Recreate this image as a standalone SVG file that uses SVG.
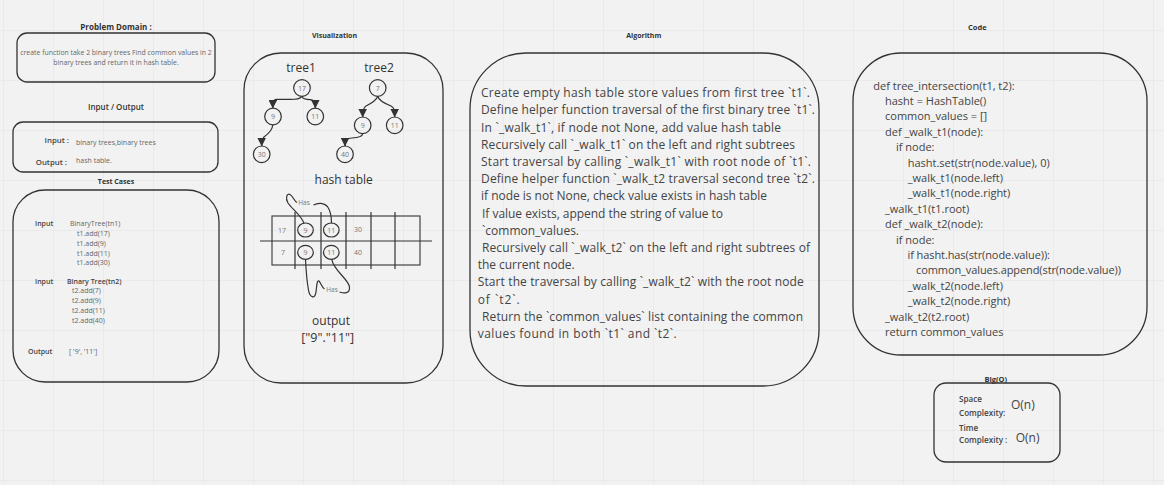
<svg xmlns="http://www.w3.org/2000/svg" width="1164" height="485" viewBox="0 0 1164 485">
<defs>
<pattern id="grid" x="3" y="30" width="50" height="50" patternUnits="userSpaceOnUse">
<path d="M0,0 H50 M0,0 V50" fill="none" stroke="#e2e2e2" stroke-width="1"/>
</pattern>
<marker id="arr" viewBox="0 0 8 8" refX="7.5" refY="4" markerWidth="8.5" markerHeight="8.5" markerUnits="userSpaceOnUse" orient="auto">
<path d="M0,0 L8,4 L0,8 Z" fill="#333"/>
</marker>
<style>
text{font-family:"Open Sans","Liberation Sans",sans-serif;}
.title{font-size:7px;font-weight:700;fill:#333;text-anchor:middle;}
.box{fill:none;stroke:#333;stroke-width:1.3;}
.sm{font-size:7px;fill:#666;}
.smb{font-size:7px;font-weight:600;fill:#444;}
.alg{font-size:12px;fill:#444;}
.code{font-size:11px;fill:#444;}
.big{font-size:12px;fill:#444;}
.nd{fill:none;stroke:#333;stroke-width:1.2;}
.nt{font-size:7px;fill:#777;text-anchor:middle;}
.edge{fill:none;stroke:#333;stroke-width:1.2;}
.ln{stroke:#333;stroke-width:1.2;fill:none;}
</style>
</defs>
<rect width="1164" height="485" fill="#f2f2f2"/>
<rect width="1164" height="485" fill="url(#grid)"/>

<g id="problem-domain">
<text class="title" x="116" y="30" style="font-size:8px">Problem Domain :</text>
<rect class="box" x="17" y="33" width="198" height="49" rx="10"/>
<text class="sm" x="116" y="54.5" text-anchor="middle" style="font-size:6.9px">create function take 2 binary trees Find common values in 2</text>
<text class="sm" x="116" y="65" text-anchor="middle" style="font-size:6.9px">binary trees and return it in hash table.</text>
</g>

<g id="input-output">
<text class="title" x="116" y="110" style="font-size:8px;font-weight:600">Input / Output</text>
<rect class="box" x="13" y="122" width="205" height="50" rx="10"/>
<text class="smb" x="69" y="142.7" text-anchor="end" style="font-size:7.8px">Input :</text>
<text class="sm" x="76" y="144.5">binary trees,binary trees</text>
<text class="smb" x="67" y="164.7" text-anchor="end" style="font-size:7.8px">Output :</text>
<text class="sm" x="76" y="162.5">hash table.</text>
</g>

<g id="test-cases">
<text class="title" x="116" y="183.5">Test Cases</text>
<rect class="box" x="13" y="190" width="206" height="192" rx="32"/>
<text class="smb" x="35" y="225.5">Input</text>
<text class="sm" x="70" y="225.5">BinaryTree(tn1)</text>
<text class="sm" x="77" y="235.5">t1.add(17)</text>
<text class="sm" x="77" y="245.5">t1.add(9)</text>
<text class="sm" x="77" y="255.5">t1.add(11)</text>
<text class="sm" x="77" y="265">t1.add(30)</text>
<text class="smb" x="35" y="283.5">Input</text>
<text class="smb" x="67" y="283.5">Binary Tree(tn2)</text>
<text class="sm" x="72" y="293">t2.add(7)</text>
<text class="sm" x="72" y="303">t2.add(9)</text>
<text class="sm" x="72" y="313">t2.add(11)</text>
<text class="sm" x="72" y="323">t2.add(40)</text>
<text class="smb" x="28" y="353.5">Output</text>
<text class="sm" x="69" y="353.5">[ '9', '11']</text>
</g>

<g id="visualization">
<text class="title" x="334.5" y="38">Visualization</text>
<rect class="box" x="244" y="53" width="199" height="330" rx="37"/>
<text x="301" y="71.5" text-anchor="middle" style="font-size:12px;fill:#333">tree1</text>
<text x="379" y="71.5" text-anchor="middle" style="font-size:12px;fill:#333">tree2</text>
<g id="t1-17"><circle class="nd" cx="302" cy="88" r="8.3"/><text class="nt" x="302" y="90.5">17</text></g>
<g id="t1-9"><circle class="nd" cx="273" cy="116.5" r="8.3"/><text class="nt" x="273" y="119">9</text></g>
<g id="t1-11"><circle class="nd" cx="315.3" cy="116.5" r="8.3"/><text class="nt" x="315.3" y="119">11</text></g>
<g id="t1-30"><circle class="nd" cx="261.7" cy="154.3" r="8.3"/><text class="nt" x="261.7" y="156.8">30</text></g>
<g id="t2-7"><circle class="nd" cx="377.7" cy="88" r="8.3"/><text class="nt" x="377.7" y="90.5">7</text></g>
<g id="t2-9"><circle class="nd" cx="362.7" cy="125.3" r="8.3"/><text class="nt" x="362.7" y="127.8">9</text></g>
<g id="t2-11"><circle class="nd" cx="394.7" cy="125.3" r="8.3"/><text class="nt" x="394.7" y="127.8">11</text></g>
<g id="t2-40"><circle class="nd" cx="345" cy="154.3" r="8.3"/><text class="nt" x="345" y="156.8">40</text></g>
<text x="343.7" y="183.5" text-anchor="middle" style="font-size:12px;fill:#333">hash table</text>
<g id="hash-table">
<rect x="272" y="216" width="148" height="49" fill="none" stroke="#444" stroke-width="1.2"/>
<line class="ln" x1="260" y1="241" x2="432" y2="241"/>
<line class="ln" x1="295" y1="212" x2="295" y2="269"/>
<line class="ln" x1="321" y1="212" x2="321" y2="269"/>
<line class="ln" x1="346" y1="212" x2="346" y2="269"/>
<line class="ln" x1="371" y1="212" x2="371" y2="269"/>
<line class="ln" x1="395" y1="212" x2="395" y2="269"/>
<text class="nt" x="282" y="232.5">17</text>
<ellipse class="nd" cx="305.5" cy="230" rx="7.8" ry="7"/><text class="nt" x="305.5" y="232.5">9</text>
<ellipse class="nd" cx="331.3" cy="230" rx="7.8" ry="7"/><text class="nt" x="331.3" y="232.5">11</text>
<text class="nt" x="358" y="231.5">30</text>
<text class="nt" x="283" y="254.5">7</text>
<ellipse class="nd" cx="305.5" cy="252.3" rx="7.8" ry="7"/><text class="nt" x="305.5" y="254.8">9</text>
<ellipse class="nd" cx="331.3" cy="252.3" rx="7.8" ry="7"/><text class="nt" x="331.3" y="254.8">11</text>
<text class="nt" x="358" y="254.5">40</text>
</g>
<text x="331" y="324.5" text-anchor="middle" style="font-size:12px;fill:#333">output</text>
<text x="327.7" y="342" text-anchor="middle" style="font-size:12.5px;fill:#333">["9"."11"]</text>
</g>

<g id="connectors">
<path class="edge" marker-end="url(#arr)" d="M301.7,96.5 C300,99 297,99.3 290,99.3 L276,99.3 C273.5,99.5 272.8,101 272.8,108"/>
<path class="edge" marker-end="url(#arr)" d="M301.7,96.5 C303,99 306,99.5 310,99.7 C313.5,100 315.3,101 315.3,108"/>
<path class="edge" marker-end="url(#arr)" d="M272.7,125 C272.5,130 268,134 264,137 C262,139 261.7,141 261.7,146"/>
<path class="edge" marker-end="url(#arr)" d="M377.7,96.5 C376,101 370,104 366,106 C363.5,107.5 362.7,110 362.7,117"/>
<path class="edge" marker-end="url(#arr)" d="M377.7,96.5 C379,101 386,104 391,106 C394,107.5 394.7,110 394.7,117"/>
<path class="edge" marker-end="url(#arr)" d="M362.7,133.5 C362.5,137 358,137.8 352,138 C347,138.3 345,139 345,146"/>
<path class="edge" d="M304,223.3 C301,215 292,209 288,203 C285,198 287,193 290,194.5 C293,196 294,201 297,202.5"/>
<text class="nt" x="304" y="204.8" style="font-size:6.5px">Has</text>
<path class="edge" d="M313.5,205 C318,202.5 324,202.5 327.5,206.5 C330.5,211 331.5,217 331.5,223.3"/>
<path class="edge" d="M305.5,259.3 C306,270 307,282 308.5,290 C309.5,297 315,300 316,292 C316.8,285 317,280 319,281 C321,283 322,288 324.5,289"/>
<text class="nt" x="332" y="291.5" style="font-size:6.5px">Has</text>
<path class="edge" d="M339.5,292 C344,293.5 350,294 349.5,287 C348.5,279 334,271 331.7,259.3"/>
</g>

<g id="algorithm">
<text class="title" x="643.8" y="38">Algorithm</text>
<rect class="box" x="470" y="53" width="349" height="333" rx="56"/>
<text class="alg" x="481" y="97.2" textLength="329">Create empty hash table store values from first tree `t1`.</text>
<text class="alg" x="481" y="114.4" textLength="334">Define helper function traversal of the first binary tree `t1`.</text>
<text class="alg" x="481" y="131.6" textLength="300">In `_walk_t1`, if node not None, add value  hash table</text>
<text class="alg" x="481" y="148.8" textLength="314">Recursively call `_walk_t1` on the left and right subtrees</text>
<text class="alg" x="481" y="166" textLength="330">Start traversal by calling `_walk_t1` with root node of `t1`.</text>
<text class="alg" x="481" y="183.2" textLength="334">Define helper function `_walk_t2 traversal second tree `t2`.</text>
<text class="alg" x="481" y="200.4" textLength="286">if node is not None, check value exists in hash table</text>
<text class="alg" x="482" y="217.6" textLength="241">If value exists, append the string of value to</text>
<text class="alg" x="482" y="234.8" textLength="97">`common_values.</text>
<text class="alg" x="482" y="252" textLength="328">Recursively call `_walk_t2` on the left and right subtrees of</text>
<text class="alg" x="477.7" y="269.2" textLength="97">the current node.</text>
<text class="alg" x="477.7" y="286.4" textLength="326">Start the traversal by calling `_walk_t2` with the root node</text>
<text class="alg" x="477.7" y="303.6" textLength="42">of `t2`.</text>
<text class="alg" x="482" y="320.8" textLength="321">Return the `common_values` list containing the common</text>
<text class="alg" x="477.7" y="338" textLength="199">values found in both `t1` and `t2`.</text>
</g>

<g id="code">
<text class="title" x="977.3" y="30" style="font-size:7.5px">Code</text>
<rect class="box" x="853" y="53" width="294" height="302" rx="48"/>
<text class="code" x="873.3" y="89.5">def tree_intersection(t1, t2):</text>
<text class="code" x="885" y="104.9">hasht = HashTable()</text>
<text class="code" x="885" y="120.3">common_values = []</text>
<text class="code" x="885" y="135.7">def _walk_t1(node):</text>
<text class="code" x="896" y="151.1">if node:</text>
<text class="code" x="907.7" y="166.5">hasht.set(str(node.value), 0)</text>
<text class="code" x="907.7" y="181.9">_walk_t1(node.left)</text>
<text class="code" x="907.7" y="197.3">_walk_t1(node.right)</text>
<text class="code" x="885" y="212.7">_walk_t1(t1.root)</text>
<text class="code" x="885" y="228.1">def _walk_t2(node):</text>
<text class="code" x="896" y="243.5">if node:</text>
<text class="code" x="907.5" y="258.9" textLength="142.5">if hasht.has(str(node.value)):</text>
<text class="code" x="916" y="274.3" textLength="205">common_values.append(str(node.value))</text>
<text class="code" x="907.7" y="289.7">_walk_t2(node.left)</text>
<text class="code" x="907.7" y="305.1">_walk_t2(node.right)</text>
<text class="code" x="885" y="320.5">_walk_t2(t2.root)</text>
<text class="code" x="885" y="335.9">return common_values</text>
</g>

<g id="big-o">
<text class="title" x="995.7" y="381.5" style="font-size:7.5px">Big(O)</text>
<rect class="box" x="934" y="383" width="126" height="79" rx="12"/>
<text class="smb" x="959" y="401.7" style="font-size:8.1px">Space</text>
<text class="smb" x="959" y="415.7" style="font-size:8.1px">Complexity:</text>
<text class="big" x="1011" y="408.5">O(n)</text>
<text class="smb" x="959" y="430.7" style="font-size:8.1px">Time</text>
<text class="smb" x="959" y="442.7" style="font-size:8.1px">Complexity :</text>
<text class="big" x="1015.7" y="441.5">O(n)</text>
</g>
</svg>
